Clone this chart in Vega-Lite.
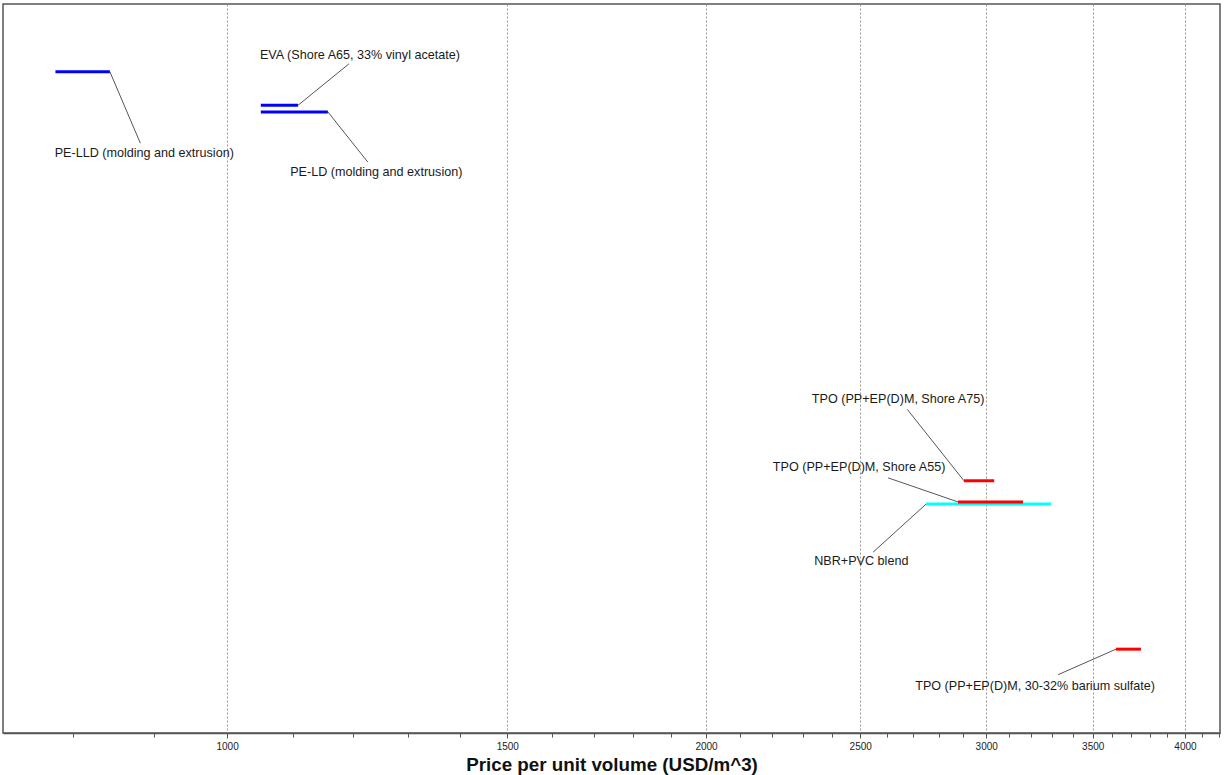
{
  "$schema": "https://vega.github.io/schema/vega-lite/v6.json",
  "width": 1217,
  "height": 729,
  "autosize": {"type": "none"},
  "padding": {"left": 3, "top": 4, "right": 5, "bottom": 42},
  "background": "white",
  "config": {
    "view": {"stroke": "#555555", "strokeWidth": 1.5},
    "font": "Liberation Sans"
  },
  "datasets": {
    "bars": [
      {"material": "PE-LLD (molding and extrusion)", "low": 780, "high": 844, "y": 90.7, "family": "PE"},
      {"material": "EVA (Shore A65, 33% vinyl acetate)", "low": 1050, "high": 1108, "y": 86.1, "family": "PE"},
      {"material": "PE-LD (molding and extrusion)", "low": 1050, "high": 1157, "y": 85.2, "family": "PE"},
      {"material": "NBR+PVC blend", "low": 2750, "high": 3295, "y": 31.4, "family": "NBR"},
      {"material": "TPO (PP+EP(D)M, Shore A75)", "low": 2905, "high": 3035, "y": 34.6, "family": "TPO"},
      {"material": "TPO (PP+EP(D)M, Shore A55)", "low": 2880, "high": 3164, "y": 31.7, "family": "TPO"},
      {"material": "TPO (PP+EP(D)M, 30-32% barium sulfate)", "low": 3620, "high": 3753, "y": 11.5, "family": "TPO"}
    ],
    "labels": [
      {"material": "PE-LLD (molding and extrusion)", "ax": 844, "ay": 90.7, "lx": 882, "ly": 80.9, "tx": 887, "ty": 79.6},
      {"material": "EVA (Shore A65, 33% vinyl acetate)", "ax": 1108, "ay": 86.1, "lx": 1193, "ly": 91.8, "tx": 1212, "ty": 93.0},
      {"material": "PE-LD (molding and extrusion)", "ax": 1157, "ay": 85.2, "lx": 1226, "ly": 78.3, "tx": 1241, "ty": 77.0},
      {"material": "TPO (PP+EP(D)M, Shore A75)", "ax": 2905, "ay": 34.6, "lx": 2676, "ly": 44.4, "tx": 2641, "ty": 45.8},
      {"material": "TPO (PP+EP(D)M, Shore A55)", "ax": 2880, "ay": 31.7, "lx": 2603, "ly": 35.0, "tx": 2496, "ty": 36.5},
      {"material": "NBR+PVC blend", "ax": 2750, "ay": 31.4, "lx": 2547, "ly": 24.8, "tx": 2504, "ty": 23.6},
      {"material": "TPO (PP+EP(D)M, 30-32% barium sulfate)", "ax": 3620, "ay": 11.5, "lx": 3329, "ly": 8.0, "tx": 3220, "ty": 6.4}
    ]
  },
  "resolve": {"axis": {"x": "independent"}},
  "layer": [
    {
      "data": {"name": "labels"},
      "mark": {"type": "rule", "color": "#555555", "strokeWidth": 1},
      "encoding": {
        "x": {
          "field": "ax",
          "type": "quantitative",
          "scale": {"type": "log", "domain": [723, 4208], "nice": false},
          "axis": {
            "orient": "bottom",
            "title": "Price per unit volume (USD/m^3)",
            "titleFontSize": 18.8,
            "titleFontWeight": "bold",
            "titleColor": "#111111",
            "titlePadding": 4,
            "values": [1000, 1500, 2000, 2500, 3000, 3500, 4000],
            "format": "d",
            "labelOverlap": false,
            "labelFontSize": 10,
            "labelColor": "#222222",
            "labelPadding": 3,
            "tickSize": 5,
            "tickColor": "#555555",
            "domainColor": "#555555",
            "domainWidth": 1.5,
            "grid": true,
            "gridColor": "#999999",
            "gridDash": [2, 2],
            "gridWidth": 1
          }
        },
        "x2": {"field": "lx"},
        "y": {
          "field": "ay",
          "type": "quantitative",
          "scale": {"domain": [0, 100], "nice": false, "zero": false},
          "axis": null
        },
        "y2": {"field": "ly"}
      }
    },
    {
      "data": {"name": "bars"},
      "mark": {"type": "rule", "strokeWidth": 3},
      "encoding": {
        "x": {
          "field": "low",
          "type": "quantitative",
          "axis": {
            "orient": "bottom",
            "title": null,
            "values": [800,900,1100,1200,1300,1400,1600,1700,1800,1900,2100,2200,2300,2400,2600,2700,2800,2900,3100,3200,3300,3400,3600,3700,3800,3900,4100,4200],
            "labels": false,
            "tickSize": 4,
            "tickColor": "#555555",
            "domain": false,
            "grid": false
          }
        },
        "x2": {"field": "high"},
        "y": {"field": "y", "type": "quantitative", "axis": null},
        "color": {
          "field": "family",
          "type": "nominal",
          "scale": {"domain": ["PE", "NBR", "TPO"], "range": ["#0000ff", "#00ffff", "#ff0000"]},
          "legend": null
        }
      }
    },
    {
      "data": {"name": "labels"},
      "mark": {"type": "text", "fontSize": 12.6, "color": "#1a1a1a", "align": "center", "baseline": "middle"},
      "encoding": {
        "x": {"field": "tx", "type": "quantitative", "axis": null},
        "y": {"field": "ty", "type": "quantitative", "axis": null},
        "text": {"field": "material"}
      }
    }
  ]
}
